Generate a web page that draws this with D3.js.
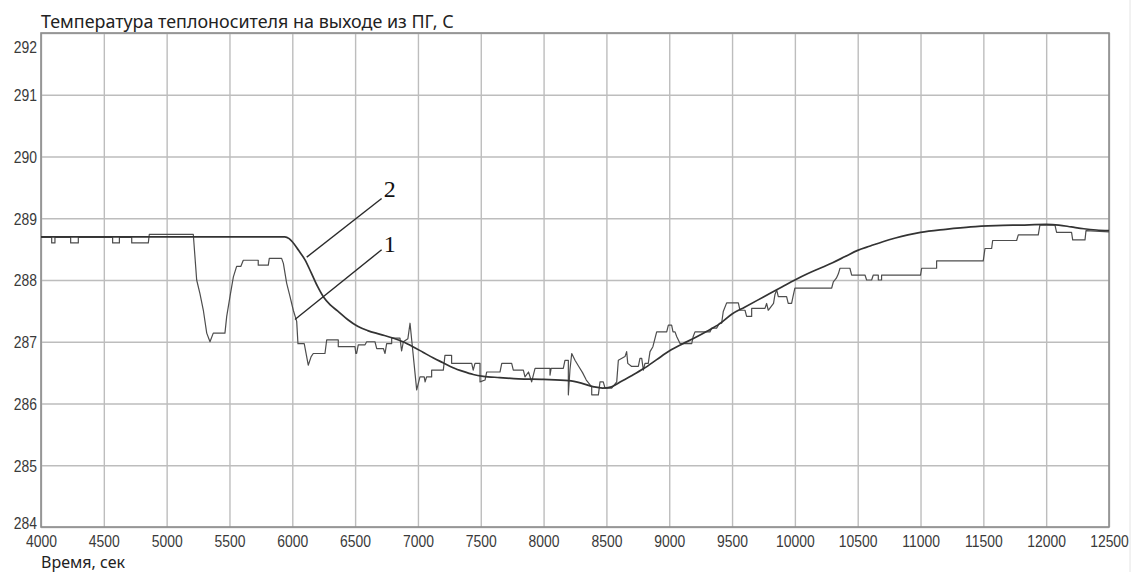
<!DOCTYPE html>
<html>
<head>
<meta charset="utf-8">
<script src="https://cdn.jsdelivr.net/npm/d3@7"></script>
<style>
  body { margin: 0; background: #fff; }
  svg { display: block; }
</style>
</head>
<body>
<svg id="chart" width="1137" height="572"></svg>
<script>
// ---------------- data ----------------
const titleText = "Температура теплоносителя на выходе из ПГ, С";
const xTitleText = "Время, сек";

const xTicks = [4000, 4500, 5000, 5500, 6000, 6500, 7000, 7500, 8000,
  8500, 9000, 9500, 10000, 10500, 11000, 11500, 12000, 12500];
const yTicks = [284, 285, 286, 287, 288, 289, 290, 291, 292];

// curve 1 - measured (stepped) temperature, [time s, temp C]
const measured = [
  [4000, 288.69], [4085, 288.69], [4085, 288.60], [4111, 288.60], [4111, 288.69],
  [4236, 288.69], [4236, 288.60], [4297, 288.60], [4297, 288.69],
  [4570, 288.69], [4570, 288.60], [4624, 288.60], [4624, 288.69],
  [4722, 288.69], [4722, 288.60], [4854, 288.60], [4862, 288.74],
  [5212, 288.74], [5239, 288.00], [5265, 287.78], [5292, 287.51], [5319, 287.14],
  [5345, 287.00], [5371, 287.14], [5464, 287.14], [5478, 287.41], [5504, 287.73],
  [5531, 288.05], [5557, 288.22], [5590, 288.22], [5610, 288.32], [5729, 288.32],
  [5729, 288.24], [5809, 288.24], [5817, 288.35], [5915, 288.35], [5929, 288.27],
  [5955, 287.95], [5982, 287.73], [6008, 287.51], [6035, 287.33], [6045, 286.97],
  [6095, 286.97], [6127, 286.62], [6150, 286.76], [6167, 286.81], [6260, 286.81],
  [6274, 287.03], [6366, 287.03], [6366, 286.92], [6499, 286.92], [6506, 286.81],
  [6512, 286.81], [6525, 286.95], [6579, 286.95], [6592, 287.00], [6658, 287.00],
  [6672, 286.89], [6725, 286.89], [6738, 286.81], [6751, 286.97], [6791, 286.97],
  [6791, 287.06], [6857, 287.06], [6870, 286.85], [6884, 287.00], [6920, 287.05],
  [6937, 287.30], [6990, 286.22], [7016, 286.43], [7050, 286.43], [7057, 286.35],
  [7069, 286.43], [7109, 286.43], [7109, 286.54], [7202, 286.54], [7215, 286.78],
  [7268, 286.78], [7268, 286.65], [7428, 286.65], [7440, 286.54], [7454, 286.65],
  [7494, 286.65], [7494, 286.35], [7534, 286.38], [7547, 286.51], [7653, 286.51],
  [7667, 286.65], [7746, 286.65], [7759, 286.54], [7839, 286.54], [7852, 286.43],
  [7880, 286.51], [7905, 286.35], [7932, 286.57], [8051, 286.57], [8051, 286.46],
  [8060, 286.57], [8157, 286.57], [8170, 286.70], [8197, 286.70], [8197, 286.14],
  [8210, 286.55], [8224, 286.81], [8250, 286.70], [8280, 286.60], [8310, 286.50],
  [8340, 286.38], [8383, 286.27], [8383, 286.14], [8436, 286.14], [8449, 286.35],
  [8475, 286.35], [8489, 286.25], [8542, 286.25], [8582, 286.35], [8595, 286.70],
  [8648, 286.76], [8661, 286.84], [8670, 286.65], [8701, 286.60], [8754, 286.60],
  [8767, 286.73], [8781, 286.73], [8794, 286.54], [8807, 286.65], [8833, 286.65],
  [8847, 286.84], [8870, 286.92], [8900, 287.16], [8980, 287.16], [8993, 287.27],
  [9019, 287.27], [9030, 287.16], [9046, 287.16], [9060, 287.08], [9086, 286.97],
  [9179, 286.97], [9190, 287.08], [9205, 287.16], [9324, 287.16], [9338, 287.22],
  [9377, 287.22], [9400, 287.30], [9417, 287.30], [9430, 287.49], [9457, 287.63],
  [9550, 287.63], [9563, 287.51], [9603, 287.51], [9616, 287.41], [9656, 287.41],
  [9656, 287.54], [9762, 287.54], [9775, 287.62], [9788, 287.51], [9830, 287.62],
  [9841, 287.76], [9855, 287.84], [9868, 287.73], [9934, 287.73], [9947, 287.62],
  [9974, 287.62], [9985, 287.73], [10000, 287.87], [10293, 287.87], [10306, 287.97],
  [10330, 288.03], [10346, 288.10], [10359, 288.19], [10438, 288.19], [10452, 288.08],
  [10558, 288.08], [10571, 288.00], [10611, 288.00], [10624, 288.08], [10664, 288.08],
  [10664, 288.00], [10690, 288.00], [10690, 288.08], [11000, 288.08], [11009, 288.19],
  [11128, 288.19], [11128, 288.31], [11499, 288.31], [11513, 288.51], [11566, 288.51],
  [11574, 288.64], [11765, 288.64], [11778, 288.73], [11937, 288.73], [11950, 288.89],
  [12070, 288.89], [12083, 288.77], [12202, 288.77], [12211, 288.65], [12309, 288.65],
  [12317, 288.80], [12500, 288.78]
];

// curve 2 - calculated (smooth) temperature
const calculated = [
  [4000, 288.70], [5940, 288.70], [5975, 288.67], [6000, 288.62], [6050, 288.48],
  [6100, 288.33], [6150, 288.12], [6200, 287.90], [6250, 287.72], [6300, 287.60],
  [6360, 287.50], [6440, 287.36], [6520, 287.25], [6600, 287.18], [6700, 287.12],
  [6800, 287.06], [6880, 287.00], [6960, 286.92], [7040, 286.83], [7120, 286.74],
  [7200, 286.66], [7280, 286.58], [7360, 286.52], [7440, 286.47], [7520, 286.44],
  [7650, 286.42], [7800, 286.40], [8000, 286.39], [8200, 286.37], [8300, 286.33],
  [8400, 286.27], [8470, 286.25], [8540, 286.27], [8620, 286.36], [8700, 286.45],
  [8800, 286.57], [8900, 286.71], [9000, 286.85], [9100, 286.96], [9200, 287.06],
  [9300, 287.17], [9400, 287.29], [9500, 287.45], [9600, 287.56], [9700, 287.67],
  [9800, 287.78], [9900, 287.89], [10000, 288.00], [10100, 288.10], [10200, 288.19],
  [10300, 288.28], [10400, 288.38], [10500, 288.48], [10600, 288.55], [10700, 288.62],
  [10800, 288.68], [10900, 288.73], [11000, 288.77], [11200, 288.82], [11400, 288.86],
  [11600, 288.88], [11800, 288.89], [12000, 288.90], [12100, 288.89], [12200, 288.86],
  [12300, 288.83], [12400, 288.81], [12500, 288.80]
];

// callout labels: point on curve -> end of leader line
const callouts = [
  { label: "2", at: [6115, 288.37], end: [6711, 289.32] },
  { label: "1", at: [6021, 287.36], end: [6711, 288.49] }
];

// ---------------- layout ----------------
const width = 1137, height = 572;
const margin = { top: 33, right: 28, bottom: 45, left: 41 };
const innerW = width - margin.left - margin.right;
const innerH = height - margin.top - margin.bottom;
const narrow = 0.82; // condense tick labels (narrow face look)

const svg = d3.select("#chart");
svg.append("rect").attr("width", width).attr("height", height).attr("fill", "#fff");

const x = d3.scaleLinear().domain([4000, 12500]).range([margin.left, margin.left + innerW]);
const y = d3.scaleLinear().domain([284, 292]).range([margin.top + innerH, margin.top]);

// faint page edge at the right
svg.append("line")
  .attr("x1", 1130).attr("x2", 1130).attr("y1", 0).attr("y2", height)
  .attr("stroke", "#e4e4e4").attr("stroke-width", 1);

// x axis + vertical grid
const gx = svg.append("g")
  .attr("transform", `translate(0,${margin.top + innerH})`)
  .call(d3.axisBottom(x).tickValues(xTicks).tickSize(-innerH).tickPadding(8).tickFormat(d3.format("d")));

// y axis + horizontal grid
const gy = svg.append("g")
  .attr("transform", `translate(${margin.left},0)`)
  .call(d3.axisLeft(y).tickValues(yTicks).tickSize(-innerW).tickPadding(4).tickFormat(d3.format("d")));

[gx, gy].forEach(g => {
  g.select(".domain").remove();
  g.selectAll(".tick line").attr("stroke", "#bdbdbd").attr("stroke-width", 1.4);
  g.selectAll(".tick text")
    .attr("fill", "#3a3a3a")
    .style("font-family", "'Liberation Sans', Arial, sans-serif")
    .style("font-size", "17px");
});

gx.selectAll(".tick text").attr("transform", `scale(${narrow},1)`);
gy.selectAll(".tick text")
  .attr("x", -4 / narrow)
  .attr("transform", `scale(${narrow},1)`)
  .attr("dy", d => d === 292 ? "1.15em" : d === 284 ? "0.1em" : "0.35em");

// plot border
svg.append("rect")
  .attr("x", margin.left).attr("y", margin.top)
  .attr("width", innerW).attr("height", innerH)
  .attr("fill", "none").attr("stroke", "#8c8c8c").attr("stroke-width", 1.6);

// ---------------- curves ----------------
const stepLine = d3.line().x(d => x(d[0])).y(d => y(d[1]));
const smoothLine = d3.line().x(d => x(d[0])).y(d => y(d[1])).curve(d3.curveMonotoneX);

svg.append("path")
  .datum(measured)
  .attr("d", stepLine)
  .attr("fill", "none")
  .attr("stroke", "#4d4d4d")
  .attr("stroke-width", 1.2)
  .attr("stroke-linejoin", "round");

svg.append("path")
  .datum(calculated)
  .attr("d", smoothLine)
  .attr("fill", "none")
  .attr("stroke", "#333")
  .attr("stroke-width", 1.7);

// callouts
callouts.forEach(c => {
  svg.append("line")
    .attr("x1", x(c.at[0])).attr("y1", y(c.at[1]))
    .attr("x2", x(c.end[0])).attr("y2", y(c.end[1]))
    .attr("stroke", "#2a2a2a").attr("stroke-width", 1.4);
  svg.append("text")
    .attr("x", x(c.end[0]) + 2)
    .attr("y", y(c.end[1]) + (c.label === "1" ? 2 : -1))
    .attr("fill", "#111")
    .style("font-family", "'Liberation Serif', 'Times New Roman', serif")
    .style("font-size", "24px")
    .text(c.label);
});

// titles
svg.append("text")
  .attr("x", margin.left).attr("y", 28)
  .attr("fill", "#222")
  .style("font-family", "'Noto Sans', 'Open Sans', sans-serif")
  .style("font-size", "17.9px")
  .text(titleText);

svg.append("text")
  .attr("x", margin.left).attr("y", 568)
  .attr("fill", "#222")
  .style("font-family", "'Noto Sans', 'Open Sans', sans-serif")
  .style("font-size", "16px")
  .text(xTitleText);
</script>
</body>
</html>
